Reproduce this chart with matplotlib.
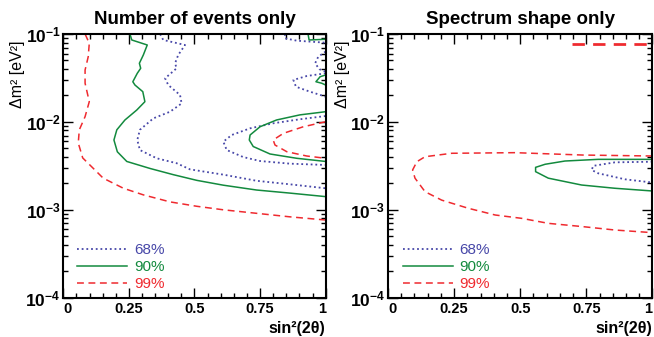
import numpy as np
import matplotlib
matplotlib.use("Agg")
import matplotlib.pyplot as plt
from matplotlib.ticker import FuncFormatter, LogLocator, MultipleLocator, NullFormatter

plt.rcParams['font.family'] = ['Liberation Sans', 'DejaVu Sans']
plt.rcParams['mathtext.fontset'] = 'custom'
plt.rcParams['mathtext.rm'] = 'Liberation Sans'
plt.rcParams['mathtext.bf'] = 'Liberation Sans:bold'

# contour lines: sin^2(2theta) and log10(dm^2 / eV^2)
# --- left panel: number of events only ---
ev68_x = [0.369, 0.381, 0.464, 0.438, 0.426, 0.432, 0.388, 0.400, 0.445, 0.451, 0.407,
          0.343, 0.292, 0.282, 0.292, 0.356, 0.432, 0.483, 0.61, 0.737, 0.864, 1.0]
ev68_y = [-1.0, -1.068, -1.125, -1.239, -1.333, -1.39, -1.504, -1.58, -1.694, -1.79, -1.884,
          -1.96, -2.09, -2.206, -2.32, -2.414, -2.47, -2.54, -2.60, -2.67, -2.71, -2.755]
ev68_in_x = [1.0, 0.902, 0.80, 0.712, 0.642, 0.61, 0.623, 0.686, 0.75, 0.864, 1.0]
ev68_in_y = [-1.933, -1.97, -2.016, -2.073, -2.149, -2.225, -2.32, -2.40, -2.445, -2.475, -2.49]
ev68_a_x = [0.845, 0.845, 0.89, 1.0]
ev68_a_y = [-1.0, -1.049, -1.076, -1.099]
ev68_b_x = [1.0, 0.972, 0.96, 0.976, 1.0]
ev68_b_y = [-1.20, -1.258, -1.333, -1.40, -1.429]
ev68_c_x = [1.0, 0.928, 0.877, 0.887, 0.94, 1.0]
ev68_c_y = [-1.447, -1.478, -1.523, -1.60, -1.656, -1.713]

ev90_x = [0.254, 0.261, 0.320, 0.305, 0.290, 0.295, 0.282, 0.265, 0.273, 0.303, 0.311,
          0.280, 0.235, 0.204, 0.193, 0.206, 0.242, 0.331, 0.419, 0.509, 0.61, 0.737, 0.864, 1.0]
ev90_y = [-1.0, -1.068, -1.125, -1.239, -1.333, -1.39, -1.447, -1.543, -1.58, -1.656, -1.77,
          -1.865, -1.978, -2.09, -2.206, -2.34, -2.45, -2.53, -2.60, -2.665, -2.72, -2.775, -2.81, -2.85]
ev90_in_x = [1.0, 0.902, 0.813, 0.75, 0.712, 0.709, 0.724, 0.788, 0.89, 1.0]
ev90_in_y = [-1.884, -1.92, -1.978, -2.055, -2.149, -2.206, -2.28, -2.365, -2.414, -2.45]
ev90_a_x = [0.933, 0.937, 1.0]
ev90_a_y = [-1.0, -1.068, -1.06]
ev90_b_x = [1.0, 0.979, 0.963, 0.985, 1.0]
ev90_b_y = [-1.466, -1.486, -1.543, -1.56, -1.58]

ev99_x = [0.083, 0.099, 0.095, 0.083, 0.083, 0.099, 0.083, 0.061, 0.057, 0.074, 0.108,
          0.152, 0.229, 0.305, 0.407, 0.509, 0.61, 0.737, 0.864, 1.0]
ev99_y = [-1.0, -1.106, -1.258, -1.41, -1.56, -1.77, -1.94, -2.09, -2.24, -2.41, -2.51,
          -2.64, -2.755, -2.83, -2.91, -2.96, -3.00, -3.04, -3.08, -3.116]
ev99_in_x = [1.0, 0.915, 0.839, 0.80, 0.807, 0.852, 0.928, 1.0]
ev99_in_y = [-1.998, -2.055, -2.13, -2.206, -2.263, -2.339, -2.388, -2.414]

# --- right panel: spectrum shape only ---
sp68_x = [1.0, 0.858, 0.776, 0.77, 0.795, 0.896, 1.0]
sp68_y = [-2.453, -2.46, -2.50, -2.547, -2.585, -2.653, -2.69]
sp90_x = [1.0, 0.795, 0.669, 0.594, 0.558, 0.558, 0.606, 0.732, 0.858, 1.0]
sp90_y = [-2.426, -2.426, -2.445, -2.482, -2.517, -2.566, -2.64, -2.718, -2.755, -2.786]
sp99_x = [1.0, 0.737, 0.48, 0.241, 0.14, 0.109, 0.093, 0.102, 0.14, 0.203, 0.304, 0.405,
          0.505, 0.606, 0.732, 0.858, 1.0]
sp99_y = [-2.388, -2.377, -2.35, -2.357, -2.396, -2.453, -2.547, -2.64, -2.794, -2.89, -2.983,
          -3.059, -3.097, -3.154, -3.19, -3.23, -3.26]
sp99_top_x = [0.695, 1.0]
sp99_top_y = [-1.117, -1.117]

levels = ['68%', '90%', '99%']
colors = {'68%': '#4747a8', '90%': '#138a3e', '99%': '#ef2a2f'}
styles = {'68%': (0, (1, 1.6)), '90%': '-', '99%': (0, (4.5, 3))}
widths = {'68%': 1.3, '90%': 1.1, '99%': 1.1}

left_lines = {
    '68%': [(ev68_x, ev68_y), (ev68_in_x, ev68_in_y), (ev68_a_x, ev68_a_y),
            (ev68_b_x, ev68_b_y), (ev68_c_x, ev68_c_y)],
    '90%': [(ev90_x, ev90_y), (ev90_in_x, ev90_in_y), (ev90_a_x, ev90_a_y),
            (ev90_b_x, ev90_b_y)],
    '99%': [(ev99_x, ev99_y), (ev99_in_x, ev99_in_y)],
}
right_lines = {
    '68%': [(sp68_x, sp68_y)],
    '90%': [(sp90_x, sp90_y)],
    '99%': [(sp99_x, sp99_y), (sp99_top_x, sp99_top_y)],
}


def exp_label(v, pos):
    return r'$\mathbf{10^{%d}}$' % int(round(np.log10(v)))


def style_axes(ax):
    ax.set_xlim(0, 1)
    ax.set_yscale('log')
    ax.set_ylim(1e-4, 1e-1)
    ax.set_xticks([0, 0.25, 0.5, 0.75, 1])
    ax.set_xticklabels(['0', '0.25', '0.5', '0.75', '1'])
    ax.xaxis.set_minor_locator(MultipleLocator(0.05))
    ax.yaxis.set_major_locator(LogLocator(base=10, numticks=10))
    ax.yaxis.set_minor_locator(LogLocator(base=10, subs=np.arange(2, 10), numticks=20))
    ax.yaxis.set_major_formatter(FuncFormatter(exp_label))
    ax.yaxis.set_minor_formatter(NullFormatter())
    ax.tick_params(which='both', direction='in', top=True, right=True, width=1.0)
    ax.tick_params(which='major', length=7)
    ax.tick_params(which='minor', length=3.5)
    ax.tick_params(axis='x', labelsize=10.5, pad=3)
    ax.tick_params(axis='y', labelsize=12.5, pad=2)
    xlabels = ax.get_xticklabels()
    for lab in xlabels:
        lab.set_fontweight('bold')
    xlabels[0].set_horizontalalignment('left')
    xlabels[-1].set_horizontalalignment('right')
    for sp in ax.spines.values():
        sp.set_linewidth(1.5)


def draw_panel(ax, lines, title, legend_x, ylab_x):
    for lev in levels:
        for i, (xs, ys) in enumerate(lines[lev]):
            lw = widths[lev] * (1.8 if (ax.get_label() == 'right' and len(xs) == 2) else 1)
            ax.plot(xs, 10.0 ** np.array(ys), color=colors[lev], ls=styles[lev], lw=lw,
                    label=lev if i == 0 else None)
    style_axes(ax)
    ax.set_title(title, fontsize=13.5, fontweight='bold', pad=7)
    ax.set_xlabel('sin²(2θ)', fontsize=11.5, fontweight='bold', loc='right', labelpad=4)
    ax.set_ylabel('Δm² [eV²]', fontsize=11.5, loc='top')
    ax.yaxis.set_label_coords(ylab_x, 0.977)
    ax.legend(loc='upper left', bbox_to_anchor=(legend_x, 0.207), frameon=False,
              fontsize=11, handlelength=3.3, handletextpad=0.42, labelspacing=0.2,
              borderpad=0, borderaxespad=0, labelcolor='linecolor')


fig = plt.figure(figsize=(6.54, 3.37), dpi=100)
ax_l = fig.add_axes([0.0968, 0.1166, 0.4011, 0.7825], label='left')
ax_r = fig.add_axes([0.5933, 0.1166, 0.4044, 0.7825], label='right')

draw_panel(ax_l, left_lines, 'Number of events only', 0.052, -0.146)
draw_panel(ax_r, right_lines, 'Spectrum shape only', 0.056, -0.144)

fig.savefig('out.png', dpi=100)
